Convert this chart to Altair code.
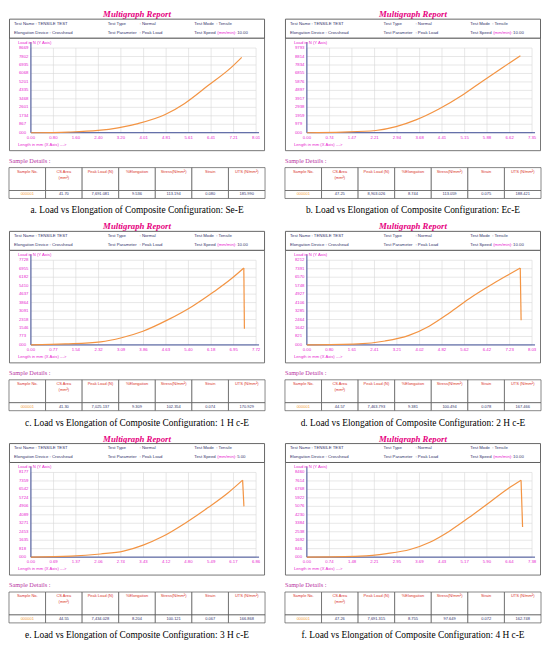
import altair as alt
import pandas as pd

# ---------------- data ----------------
captions = [
    "a. Load vs Elongation of Composite Configuration: Se-E",
    "b. Load vs Elongation of Composite Configuration: Ec-E",
    "c. Load vs Elongation of Composite Configuration: 1 H c-E",
    "d. Load vs Elongation of Composite Configuration: 2 H c-E",
    "e. Load vs Elongation of Composite Configuration: 3 H c-E",
    "f. Load vs Elongation of Composite Configuration: 4 H c-E",
]
test_speeds = ["10.00", "10.00", "10.00", "10.00", "5.00", "10.00"]

x_ticks = [
    ["0.00", "0.80", "1.60", "2.40", "3.20", "4.01", "4.81", "5.61", "6.41", "7.21", "8.01"],
    ["0.00", "0.74", "1.47", "2.21", "2.94", "3.68", "4.41", "5.15", "5.88", "6.62", "7.35"],
    ["0.00", "0.77", "1.54", "2.32", "3.09", "3.86", "4.63", "5.40", "6.18", "6.95", "7.72"],
    ["0.00", "0.80", "1.61", "2.41", "3.21", "4.02", "4.82", "5.62", "6.42", "7.23", "8.03"],
    ["0.00", "0.69", "1.37", "2.06", "2.74", "3.43", "4.12", "4.80", "5.49", "6.17", "6.86"],
    ["0.00", "0.74", "1.48", "2.21", "2.95", "3.69", "4.43", "5.17", "5.90", "6.64", "7.38"],
]
y_ticks = [
    ["000", "867", "1734", "2601", "3468", "4335", "5201", "6068", "6935", "7802", "8669"],
    ["000", "979", "1959", "2938", "3917", "4897", "5876", "6855", "7834", "8814", "9793"],
    ["000", "773", "1546", "2318", "3091", "3864", "4637", "5410", "6182", "6955", "7728"],
    ["000", "821", "1642", "2464", "3285", "4106", "4927", "5748", "6570", "7391", "8212"],
    ["000", "818", "1635", "2453", "3271", "4089", "4906", "5724", "6542", "7359", "8177"],
    ["000", "846", "1692", "2538", "3384", "4230", "5076", "5922", "6768", "7614", "8460"],
]

# elongation (mm) and load (N)
curve_x = [
    [0, 1.33, 2.39, 3.10, 3.81, 4.76, 5.47, 6.29, 7.12, 7.50],
    [0, 1.17, 2.25, 2.91, 3.56, 4.31, 5.07, 5.72, 6.37, 6.97],
    [0, 1.18, 2.39, 3.11, 3.84, 4.69, 5.54, 6.27, 6.87, 7.30],
    [0, 1.83, 2.79, 3.64, 4.36, 5.08, 5.80, 6.65, 7.25, 7.61],
    [0, 1.22, 2.12, 2.82, 3.42, 4.01, 4.71, 5.41, 6.01, 6.45],
    [0, 1.75, 2.62, 3.38, 4.03, 4.67, 5.43, 6.08, 6.62, 7.02],
]
curve_y = [
    [0, 67, 233, 500, 934, 1834, 3001, 4800, 6668, 7720],
    [0, 74, 260, 705, 1484, 2745, 4340, 5935, 7493, 8903],
    [0, 94, 282, 657, 1251, 2284, 3535, 4850, 6038, 7025],
    [0, 96, 383, 927, 1821, 3099, 4505, 5950, 6900, 7464],
    [0, 92, 306, 582, 1164, 1991, 3308, 4808, 6217, 7434],
    [0, 95, 349, 760, 1489, 2598, 4214, 5680, 6900, 7691],
]
# load drop after break (elongation, load); empty when the test stopped at peak
break_x = [[], [], [7.32], [7.64], [6.49], [7.07]]
break_y = [[], [], [1470], [2396], [4900], [3010]]

table_cols = ["Sample No.", "CS Area\n(mm\u00b2)", "Peak Load (N)", "%Elongation",
              "Stress(N/mm\u00b2)", "Strain", "UTS (N/mm\u00b2)"]
table_vals = [
    ["000001", "41.70", "7,691.081", "9.536", "113.194", "0.080", "185.990"],
    ["000001", "47.25", "8,903.026", "8.744", "113.059", "0.075", "188.421"],
    ["000001", "41.30", "7,025.137", "9.309", "102.354", "0.074", "170.929"],
    ["000001", "44.57", "7,463.793", "9.381", "100.494", "0.078", "167.466"],
    ["000001", "44.55", "7,434.028", "8.204", "100.121", "0.067", "166.868"],
    ["000001", "47.26", "7,691.315", "8.755", "97.649", "0.072", "162.748"],
]

# ---------------- styles / layout ----------------
W, H = 257, 213
PX0, PX1 = 22, 248
PY0, PY1 = 39, 124
GB_Y0, GB_Y1 = 29, 142
TY0, TY1, TY2 = 159, 182, 190

SANS = "Liberation Sans"
SERIF = "Liberation Serif"
MAG = "#e6007e"
TICK = "#e824cf"
NAVY = "#33336b"
AXIS = "#2b3a8c"
GRID = "#d6d6d6"
ORANGE = "#f39443"
BOX = "#555555"
RED = "#d9342b"
PURPLE = "#b8329f"

ONE = pd.DataFrame({"k": [0]})


def label(text, x, y, size, color, align="left", font=SANS, weight="normal",
          style="normal", baseline="middle"):
    return alt.Chart(ONE).mark_text(
        align=align, baseline=baseline, font=font, fontSize=size, color=color,
        fontWeight=weight, fontStyle=style
    ).encode(x=alt.value(x), y=alt.value(y), text=alt.value(text))


def box(x0, y0, x1, y1, sw=0.8, stroke=BOX):
    return alt.Chart(ONE).mark_rect(fill="white", stroke=stroke, strokeWidth=sw).encode(
        x=alt.value(x0), x2=alt.value(x1), y=alt.value(y0), y2=alt.value(y1))


def panel(k):
    xt, yt = x_ticks[k], y_ticks[k]
    xv = [float(s) for s in xt]
    yv = [float(s) for s in yt]
    xs = alt.Scale(domain=[0, xv[-1]], range=[PX0, PX1], nice=False, zero=False)
    ys = alt.Scale(domain=[0, yv[-1]], range=[PY1, PY0], nice=False, zero=False)
    xtick_df = pd.DataFrame({"v": xv, "t": xt})
    ytick_df = pd.DataFrame({"v": yv, "t": yt})
    curve = pd.DataFrame({"x": curve_x[k], "y": curve_y[k]})
    tdf = pd.DataFrame({"col": table_cols, "val": table_vals[k]})
    ts = alt.Scale(type="band", domain=table_cols, range=[0, W], paddingInner=0, paddingOuter=0)
    fs = 4.3

    layers = [
        # title + header box
        label("Multigraph Report", W / 2, 5, 8.8, MAG, align="center", font=SERIF,
              weight="bold", style="italic"),
        box(0.5, GB_Y0, W - 0.5, GB_Y1),
        box(0.5, 10, W - 0.5, GB_Y0, sw=0.9),
        label("Test Name : TENSILE TEST", 5, 14.5, fs, NAVY),
        label("Test Type", 99, 14.5, fs, NAVY),
        label(": Normal", 131, 14.5, fs, NAVY),
        label("Test Mode", 186, 14.5, fs, NAVY),
        label(": Tensile", 208, 14.5, fs, NAVY),
        label("Elongation Device : Crosshead", 5, 23.5, fs, NAVY),
        label("Test Parameter", 99, 23.5, fs, NAVY),
        label(": Peak Load", 131, 23.5, fs, NAVY),
        label("Test Speed", 186, 23.5, fs, NAVY),
        label("(mm/min):", 209, 23.5, fs, TICK),
        label(test_speeds[k], 229, 23.5, fs, NAVY),
        # grid
        alt.Chart(xtick_df).mark_rule(color=GRID, strokeWidth=0.6).encode(
            x=alt.X("v:Q", scale=xs, axis=None), y=alt.value(PY0), y2=alt.value(PY1)),
        alt.Chart(ytick_df).mark_rule(color=GRID, strokeWidth=0.6).encode(
            y=alt.Y("v:Q", scale=ys, axis=None), x=alt.value(PX0), x2=alt.value(PX1)),
        # axis lines
        alt.Chart(ONE).mark_rule(color=AXIS, strokeWidth=0.9).encode(
            x=alt.value(PX0), x2=alt.value(PX1 + 3), y=alt.value(PY1)),
        alt.Chart(ONE).mark_rule(color=AXIS, strokeWidth=0.9).encode(
            x=alt.value(PX0), y=alt.value(PY0 - 6), y2=alt.value(PY1)),
        # tick labels
        alt.Chart(xtick_df).mark_text(font=SANS, fontSize=4.3, color=TICK, align="center",
                                      baseline="middle").encode(
            x=alt.X("v:Q", scale=xs, axis=None), y=alt.value(PY1 + 5), text="t:N"),
        alt.Chart(ytick_df).mark_text(font=SANS, fontSize=4.3, color=TICK, align="left",
                                      baseline="middle").encode(
            y=alt.Y("v:Q", scale=ys, axis=None), x=alt.value(10), text="t:N"),
        label("Load in N (Y Axis)", 9, 34, 4.2, TICK),
        label("Length in mm (X Axis) --->", 9, 136, 4.2, TICK),
        # rising curve (smooth)
        alt.Chart(curve).mark_line(color=ORANGE, strokeWidth=1.2,
                                   interpolate="monotone").encode(
            x=alt.X("x:Q", scale=xs, axis=None), y=alt.Y("y:Q", scale=ys, axis=None)),
    ]
    if break_x[k]:
        drop = pd.DataFrame({"x": [curve_x[k][-1]] + break_x[k],
                             "y": [curve_y[k][-1]] + break_y[k]})
        layers.append(
            alt.Chart(drop).mark_line(color=ORANGE, strokeWidth=1.2).encode(
                x=alt.X("x:Q", scale=xs, axis=None), y=alt.Y("y:Q", scale=ys, axis=None)))
    layers += [
        # sample details table
        label("Sample Details :", 0, 152, 6.3, PURPLE, font=SERIF),
        alt.Chart(tdf).mark_rect(fill="white", stroke=BOX, strokeWidth=0.7).encode(
            x=alt.X("col:N", scale=ts, axis=None), y=alt.value(TY0), y2=alt.value(TY1)),
        alt.Chart(tdf).mark_rect(fill="white", stroke=BOX, strokeWidth=0.7).encode(
            x=alt.X("col:N", scale=ts, axis=None), y=alt.value(TY1), y2=alt.value(TY2)),
        alt.Chart(tdf).mark_text(font=SANS, fontSize=4, color=RED, baseline="top",
                                 align="center", lineBreak="\n").encode(
            x=alt.X("col:N", scale=ts, axis=None), y=alt.value(TY0 + 2.5), text="col:N"),
        alt.Chart(tdf).mark_text(font=SANS, fontSize=4, baseline="middle",
                                 align="center").encode(
            x=alt.X("col:N", scale=ts, axis=None), y=alt.value((TY1 + TY2) / 2),
            text="val:N",
            color=alt.condition(alt.datum.col == "Sample No.", alt.value("#f39c3c"),
                                alt.value(NAVY))),
        # caption
        label(captions[k], W / 2, 202, 9.4, "black", align="center", font=SERIF),
    ]
    return alt.layer(*layers).resolve_scale(x="independent", y="independent").properties(
        width=W, height=H)


chart = alt.concat(*[panel(k) for k in range(6)], columns=2,
                   spacing=alt.RowColnumber(row=0, column=20), bounds="flush").properties(
    padding=0, background="white").configure_view(stroke=None)

chart.save("out.html", embed_options={"renderer": "svg", "actions": False})
